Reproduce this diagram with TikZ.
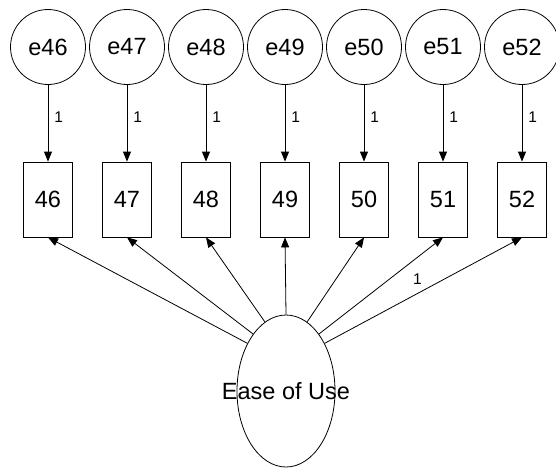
\documentclass[tikz,border=0pt]{standalone}
\usepackage{fontspec}
\setmainfont{Liberation Sans}
\usetikzlibrary{shapes.geometric,arrows.meta}
\begin{document}
\begin{tikzpicture}[x=1pt,y=-1pt,
  bigtext/.style={font=\fontsize{23.5}{27}\selectfont},
  errvar/.style={circle,draw,minimum size=75pt,inner sep=0pt,bigtext},
  obsvar/.style={rectangle,draw,minimum width=49pt,minimum height=75pt,inner sep=0pt,bigtext},
  latent/.style={ellipse,draw,minimum width=98pt,minimum height=152pt,inner sep=0pt},
  regpath/.style={-{Triangle[length=10pt,width=8pt]},line width=0.8pt},
  wlabel/.style={font=\fontsize{15.5}{18}\selectfont,inner sep=0pt},
  every node/.append style={line width=0.8pt}
]
\useasboundingbox (0,0) rectangle (556,472);
% error terms and observed indicators
\foreach \i/\x in {46/48,47/127,48/206,49/285,50/364,51/443,52/522} {
  \node[errvar] (e\i) at (\x,47) {e\i};
  \node[obsvar] (v\i) at (\x,199.5) {\i};
  \draw[regpath] (e\i) -- node[wlabel,pos=0.42,right=6pt] {1} (v\i);
}
% latent factor
\node[latent] (F) at (286,391) {};
\node[bigtext] at (F) {Ease of Use};
% loadings
\draw[regpath] (F.129) -- (v46.south);
\draw[regpath] (F.120) -- (v47.south);
\draw[regpath] (F.107) -- (v48.south);
\draw[regpath] (F.north) -- (v49.south);
\draw[regpath] (F.73) -- (v50.south);
\draw[regpath] (F.60) -- (v51.south);
\draw[regpath] (F.51) -- node[wlabel,pos=0.47,above=9pt] {1} (v52.south);
\end{tikzpicture}
\end{document}
